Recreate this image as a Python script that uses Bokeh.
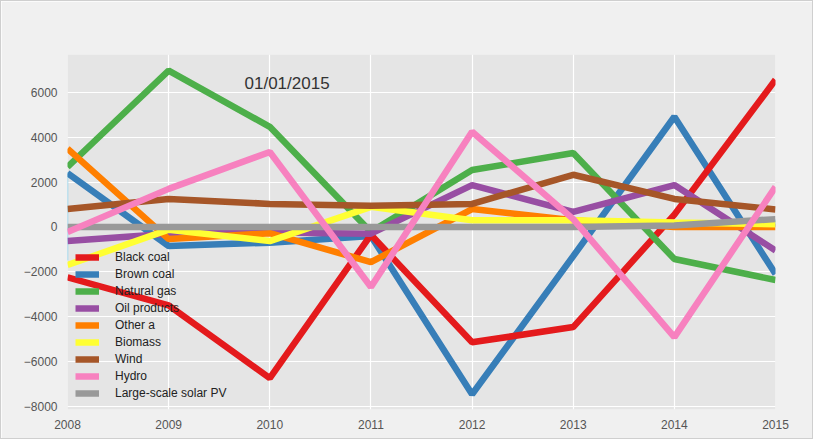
from bokeh.plotting import figure
from bokeh.models import (Label, Legend, LegendItem, CustomJSTickFormatter,
                          FixedTicker, Range1d)
from bokeh.embed import file_html
from bokeh.resources import INLINE

years = [2008, 2009, 2010, 2011, 2012, 2013, 2014, 2015]

black_coal = [-2250, -3500, -6750, -350, -5150, -4470, 550, 6570]
brown_coal = [2400, -850, -700, -400, -7470, -1300, 4920, -2100]
natural_gas = [2680, 6980, 4470, -220, 2540, 3300, -1430, -2370]
oil_products = [-630, -300, -250, -300, 1870, 670, 1870, -1050]
other_a = [3500, -540, -280, -1570, 800, 300, 0, 0]
biomass = [-1700, -120, -630, 900, 300, 300, 200, 120]
wind = [800, 1250, 1030, 950, 1030, 2330, 1250, 780]
hydro = [-230, 1700, 3350, -2680, 4250, 350, -4920, 1790]
solar_pv = [0, 0, 0, 0, 0, 0, 60, 350]

series_names = ["Black coal", "Brown coal", "Natural gas", "Oil products",
                "Other a", "Biomass", "Wind", "Hydro", "Large-scale solar PV"]
series_values = [black_coal, brown_coal, natural_gas, oil_products,
                 other_a, biomass, wind, hydro, solar_pv]
colors = ["#e41a1c", "#377eb8", "#4daf4a", "#984ea3", "#ff7f00",
          "#ffff33", "#a65628", "#f781bf", "#999999"]

# thin light-blue edge strokes seen at the ends of the x range
edge_x = [2008, 2015]
edge_top = [2450, 330]
edge_bottom = [-1500, 0]

y_ticks = [-8000, -6000, -4000, -2000, 0, 2000, 4000, 6000]
title_text = "01/01/2015"

p = figure(width=813, height=439, output_backend="svg", toolbar_location=None,
           x_range=Range1d(2008, 2015), y_range=Range1d(-8150, 7700),
           min_border_left=66, min_border_right=39, min_border_top=53,
           min_border_bottom=31)
p.styles = {"border": "1px solid #cfcfcf"}
p.background_fill_color = "#e5e5e5"
p.border_fill_color = "#f0f0f0"
p.outline_line_color = None

p.xgrid.grid_line_color = "white"
p.ygrid.grid_line_color = "white"
p.xgrid.grid_line_width = 1.2
p.ygrid.grid_line_width = 1.2

p.xaxis.ticker = FixedTicker(ticks=years)
p.yaxis.ticker = FixedTicker(ticks=y_ticks)
p.yaxis.formatter = CustomJSTickFormatter(code="return tick.toString().replace('-', '\u2212');")
for ax in (p.xaxis[0], p.yaxis[0]):
    ax.axis_line_color = None
    ax.major_tick_line_color = None
    ax.minor_tick_line_color = None
    ax.major_label_text_color = "#555555"
    ax.major_label_text_font = "Liberation Sans"
    ax.major_label_text_font_size = "12px"
p.xaxis.major_label_standoff = 4
p.yaxis.major_label_standoff = 4

p.segment(x0=edge_x, y0=edge_bottom, x1=edge_x, y1=edge_top,
          line_color="#8fd3ee", line_width=1.5)

renderers = {}
draw_order = [1, 0, 2, 3, 4, 5, 8, 6, 7]
for i in draw_order:
    renderers[i] = p.line(years, series_values[i], line_color=colors[i],
                          line_width=6.5)

items = [LegendItem(label=series_names[i], renderers=[renderers[i]])
         for i in range(len(series_names))]
legend = Legend(items=items, location=(8, 9))
legend.background_fill_alpha = 0
legend.border_line_color = None
legend.label_text_font = "Liberation Sans"
legend.label_text_font_size = "12px"
legend.label_text_color = "#222222"
legend.glyph_width = 24
legend.glyph_height = 12
legend.label_height = 12
legend.spacing = 3
legend.padding = 6
legend.margin = 0
legend.label_standoff = 16
p.add_layout(legend, "center")

p.add_layout(Label(x=2009.75, y=6400, text=title_text, text_font="Liberation Sans",
                   text_font_size="17px", text_color="#333333",
                   text_baseline="middle"))

open("out.html", "w").write(file_html(p, INLINE))
